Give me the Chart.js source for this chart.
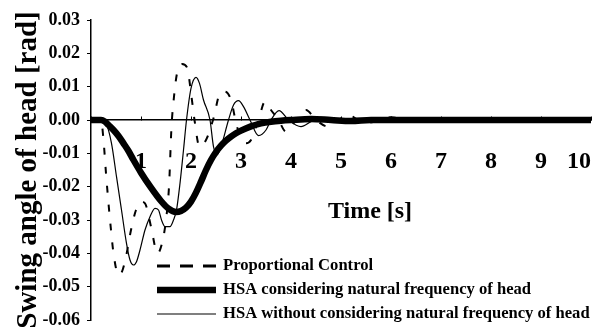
<!DOCTYPE html>
<html>
<head>
<meta charset="utf-8">
<script src="https://cdn.jsdelivr.net/npm/chart.js@4.4.0/dist/chart.umd.min.js"></script>
<style>
    html, body { margin: 0; padding: 0; background: #fff; }
    #wrap { width: 595px; height: 327px; }
</style>
</head>
<body>
<div id="wrap"><canvas id="swingChart" width="595" height="327"></canvas></div>
<script>
// Proportional Control (dashed)
const propT = [0, 0.2, 0.25, 0.3, 0.35, 0.4, 0.45, 0.55, 0.62, 0.7, 0.8, 0.9, 1.0, 1.08, 1.2, 1.33, 1.42, 1.5, 1.56, 1.61, 1.66, 1.72, 1.82, 1.92, 2.01, 2.07, 2.17, 2.3, 2.45, 2.58, 2.68, 2.8, 2.92, 3.1, 3.2, 3.35, 3.48, 3.6, 3.75, 3.9, 4.1, 4.3, 4.5, 4.75, 4.95, 5.15, 5.35, 5.55, 5.8, 6.0, 6.3, 6.5, 7.0, 8.0, 9.0, 10];
const propV = [0, 0, -0.006, -0.016, -0.025, -0.033, -0.040, -0.0465, -0.0455, -0.041, -0.033, -0.027, -0.0245, -0.025, -0.032, -0.040, -0.037, -0.030, -0.020, -0.002, 0.007, 0.014, 0.0168, 0.0158, 0.007, 0, -0.008, -0.006, 0.0005, 0.008, 0.0085, 0.006, -0.002, -0.007, -0.006, 0, 0.0055, 0.003, 0, -0.0035, 0, 0.003, 0, -0.002, 0, 0.0015, 0, -0.0008, 0, 0.0008, 0, -0.0003, 0, 0, 0, 0];

// HSA considering natural frequency of head (thick)
const hsaNatT = [0, 0.2, 0.28, 0.35, 0.45, 0.55, 0.65, 0.75, 0.85, 1.0, 1.2, 1.4, 1.55, 1.7, 1.8, 1.9, 2.0, 2.1, 2.2, 2.3, 2.4, 2.5, 2.6, 2.7, 2.8, 2.9, 3.0, 3.2, 3.4, 3.6, 3.8, 4.0, 4.4, 4.8, 5.2, 5.6, 6, 7, 8, 9, 10];
const hsaNatV = [0, 0, -0.0005, -0.0015, -0.003, -0.0048, -0.007, -0.0093, -0.012, -0.0158, -0.0203, -0.0243, -0.0266, -0.0276, -0.0273, -0.0263, -0.0245, -0.0218, -0.0185, -0.0150, -0.0120, -0.0096, -0.0077, -0.0062, -0.0050, -0.0040, -0.0032, -0.0019, -0.0010, -0.0005, -0.0002, 0, 0.0003, 0, -0.0003, 0, 0, 0, 0, 0, 0];

// HSA without considering natural frequency of head (thin)
const hsaT = [0, 0.2, 0.3, 0.41, 0.51, 0.61, 0.71, 0.78, 0.85, 0.91, 0.98, 1.08, 1.18, 1.28, 1.35, 1.41, 1.48, 1.58, 1.65, 1.71, 1.78, 1.85, 1.91, 2.0, 2.1, 2.17, 2.25, 2.38, 2.45, 2.52, 2.6, 2.75, 2.85, 2.95, 3.05, 3.18, 3.35, 3.5, 3.6, 3.76, 3.95, 4.2, 4.4, 4.6, 4.8, 5.0, 5.3, 5.6, 6.0, 7, 8, 9, 10];
const hsaV = [0, 0, -0.001, -0.007, -0.017, -0.027, -0.037, -0.042, -0.0435, -0.0425, -0.039, -0.033, -0.029, -0.0265, -0.027, -0.030, -0.032, -0.032, -0.030, -0.027, -0.019, -0.009, 0, 0.0095, 0.0128, 0.011, 0.006, 0, -0.008, -0.0105, -0.008, 0, 0.0045, 0.0058, 0.004, 0, -0.0047, -0.003, 0, 0.0028, 0, -0.002, -0.0005, 0.0008, 0.0003, -0.0007, 0.0003, -0.0003, 0, 0, 0, 0, 0];

const seriesNames = ['Proportional Control', 'HSA considering natural frequency of head', 'HSA without considering natural frequency of head'];
const xTitle = 'Time [s]';
const yTitle = 'Swing angle of head [rad]';

const SERIF = '"Liberation Serif", "Times New Roman", serif';

function toPoints(ts, vs) {
    return ts.map((t, i) => ({x: t, y: vs[i]}));
}

// legend + x title drawn inside the plot area like the original
const overlayPlugin = {
    id: 'overlay',
    afterDraw(chart) {
        const ctx = chart.ctx;
        const rows = [
            {y: 266, width: 3, dash: [13, 10]},
            {y: 290, width: 6.5, dash: []},
            {y: 314, width: 1.2, dash: []}
        ];
        ctx.save();
        ctx.fillStyle = '#000';
        ctx.strokeStyle = '#000';
        ctx.font = 'bold 16.6px ' + SERIF;
        ctx.textBaseline = 'middle';
        ctx.textAlign = 'left';
        rows.forEach((r, i) => {
            ctx.beginPath();
            ctx.lineWidth = r.width;
            ctx.setLineDash(r.dash);
            ctx.moveTo(157, r.y);
            ctx.lineTo(216, r.y);
            ctx.stroke();
            ctx.fillText(seriesNames[i], 223, r.y);
        });
        ctx.setLineDash([]);
        ctx.font = 'bold 24px ' + SERIF;
        ctx.textAlign = 'center';
        ctx.fillText(xTitle, 370, 212);
        ctx.restore();
    }
};

let ctx = document.getElementById('swingChart');
new Chart(ctx, {
    type: 'line',
    data: {
        datasets: [
            {
                label: seriesNames[0],
                data: toPoints(propT, propV),
                borderColor: '#000',
                borderWidth: 2,
                borderDash: [7, 12],
                pointRadius: 0,
                cubicInterpolationMode: 'monotone'
            },
            {
                label: seriesNames[1],
                data: toPoints(hsaNatT, hsaNatV),
                borderColor: '#000',
                borderWidth: 6.5,
                pointRadius: 0,
                cubicInterpolationMode: 'monotone'
            },
            {
                label: seriesNames[2],
                data: toPoints(hsaT, hsaV),
                borderColor: '#000',
                borderWidth: 1.2,
                pointRadius: 0,
                cubicInterpolationMode: 'monotone'
            }
        ]
    },
    options: {
        responsive: false,
        devicePixelRatio: 1,
        animation: false,
        layout: {padding: {top: 20, right: 4, bottom: 7, left: 0}},
        plugins: {
            legend: {display: false},
            title: {display: false},
            tooltip: {enabled: false}
        },
        scales: {
            x: {
                type: 'linear',
                min: 0,
                max: 10,
                position: {y: 0},
                border: {display: true, color: '#000', width: 1.5},
                grid: {drawOnChartArea: false, drawTicks: true, tickLength: -4, color: '#000'},
                ticks: {
                    stepSize: 1,
                    align: 'inner',
                    padding: 31,
                    maxRotation: 0,
                    color: '#000',
                    font: {family: SERIF, size: 24, weight: 'bold'},
                    callback: v => v === 0 ? '' : String(v)
                },
                afterFit: scale => {
                    scale.paddingLeft = 0;
                    scale.paddingRight = 0;
                    scale.paddingTop = 0;
                    scale.paddingBottom = 0;
                    scale.height = 0;
                }
            },
            y: {
                min: -0.06,
                max: 0.03,
                border: {display: true, color: '#000', width: 1.5},
                grid: {drawOnChartArea: false, drawTicks: true, tickLength: 4, color: '#000'},
                ticks: {
                    stepSize: 0.01,
                    padding: 7,
                    color: '#000',
                    font: {family: SERIF, size: 18, weight: 'bold'},
                    callback: v => v.toFixed(2)
                },
                title: {
                    display: true,
                    text: yTitle,
                    color: '#000',
                    padding: {top: 14, bottom: 0},
                    font: {family: SERIF, size: 29, weight: 'bold', lineHeight: 1}
                },
                afterFit: scale => {
                    scale.width = 91;
                    scale.paddingTop = 0;
                    scale.paddingBottom = 0;
                }
            }
        }
    },
    plugins: [overlayPlugin]
});
</script>
</body>
</html>
